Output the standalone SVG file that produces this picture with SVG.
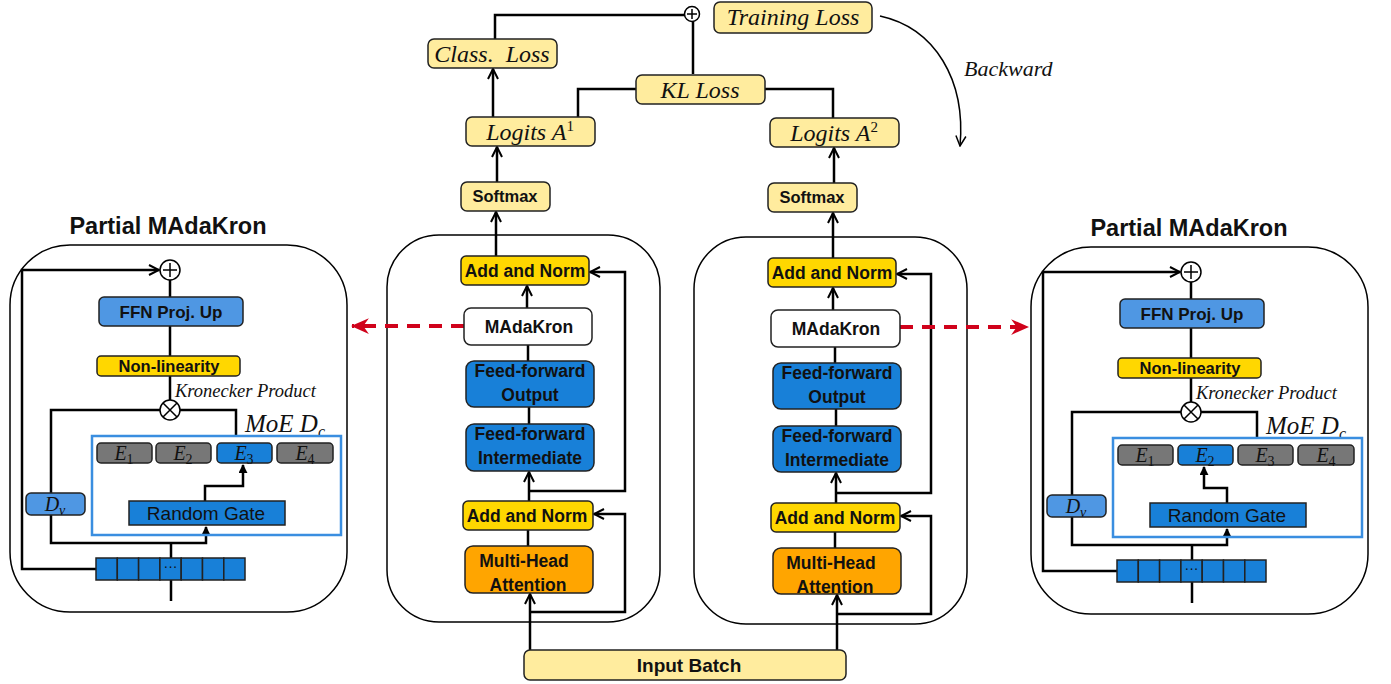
<svg xmlns="http://www.w3.org/2000/svg" width="1391" height="684" viewBox="0 0 1391 684">
<style>
.bx{stroke:#222;stroke-width:1.5}
.ly{fill:#FFEC9E}
.gd{fill:#FFD700}
.db{fill:#1880D8}
.lb{fill:#4F97E3}
.or{fill:#FFA500}
.gr{fill:#777}
.wh{fill:#fff}
.ln{fill:none;stroke:#000;stroke-width:2.5}
.thin{fill:none;stroke:#000;stroke-width:1.5}
.pn{fill:none;stroke:#000;stroke-width:1.5}
.sb{font-family:"Liberation Sans",Arial,sans-serif;font-weight:bold;text-anchor:middle;fill:#111}
.ss{font-family:"Liberation Sans",Arial,sans-serif;text-anchor:middle;fill:#111}
.it{font-family:"Liberation Serif","DejaVu Serif",serif;font-style:italic;fill:#111}
.itc{font-family:"Liberation Serif","DejaVu Serif",serif;font-style:italic;text-anchor:middle;fill:#111}
.red{fill:none;stroke:#D0021B;stroke-width:4;stroke-dasharray:13 9}
.moe{fill:none;stroke:#3A8EE0;stroke-width:2.5}
.f17{font-size:17.5px}
</style>
<defs>
<marker id="a" viewBox="0 0 12 12" refX="11" refY="6" markerWidth="12" markerHeight="12" markerUnits="userSpaceOnUse" orient="auto"><path d="M1,1 L11,6 L1,11" fill="none" stroke="#000" stroke-width="2"/></marker>
<marker id="t" viewBox="0 0 10 10" refX="9" refY="5" markerWidth="9" markerHeight="9" markerUnits="userSpaceOnUse" orient="auto"><path d="M0,0 L10,5 L0,10 z" fill="#000"/></marker>
<marker id="r" viewBox="0 0 16 16" refX="15" refY="8" markerWidth="18" markerHeight="18" markerUnits="userSpaceOnUse" orient="auto"><path d="M0,1 L16,8 L0,15 L5,8 z" fill="#D0021B"/></marker>
<marker id="b" viewBox="0 0 12 12" refX="11" refY="6" markerWidth="12" markerHeight="12" markerUnits="userSpaceOnUse" orient="auto"><path d="M1,1 L11,6 L1,11" fill="none" stroke="#000" stroke-width="1.5"/></marker>
</defs>

<!-- center panels -->
<g id="blockLeft"><rect x="387" y="235" width="273" height="387" rx="52" class="pn"/></g>
<g id="blockRight"><rect x="694" y="237" width="273" height="387" rx="52" class="pn"/></g>

<g id="connectors">
  <path class="ln" d="M495,39 V15 H685"/>
  <path class="ln" d="M693,21 V74"/>
  <path class="ln" d="M636,89 H578 V117"/>
  <path class="ln" d="M765,89 H833 V118"/>
  <path class="ln" d="M493,117 V69" marker-end="url(#a)"/>
  <path class="ln" d="M497,182 V147" marker-end="url(#a)"/>
  <path class="ln" d="M834,183 V148" marker-end="url(#a)"/>
  <path class="ln" d="M496,256 V212" marker-end="url(#a)"/>
  <path class="ln" d="M833,258 V213" marker-end="url(#a)"/>
  <path class="thin" d="M880,16 C935,28 966,80 960,146" marker-end="url(#b)"/>
  <path class="ln" d="M530,650 V594" marker-end="url(#a)"/>
  <path class="ln" d="M530,612 H625 V514 H594" marker-end="url(#a)"/>
  <path class="ln" d="M528,546 V530"/>
  <path class="ln" d="M529,501 V472" marker-end="url(#a)"/>
  <path class="ln" d="M529,491 H625 V272 H590" marker-end="url(#a)"/>
  <path class="ln" d="M529,424 V407"/>
  <path class="ln" d="M528,361 V345"/>
  <path class="ln" d="M527,308 V286" marker-end="url(#a)"/>
  <path class="ln" d="M837,650 V595" marker-end="url(#a)"/>
  <path class="ln" d="M837,614 H931 V516 H901" marker-end="url(#a)"/>
  <path class="ln" d="M835,548 V532"/>
  <path class="ln" d="M836,503 V473" marker-end="url(#a)"/>
  <path class="ln" d="M836,493 H931 V274 H897" marker-end="url(#a)"/>
  <path class="ln" d="M836,426 V409"/>
  <path class="ln" d="M835,363 V347"/>
  <path class="ln" d="M833,310 V288" marker-end="url(#a)"/>
  <path class="red" d="M464,326 H352" marker-end="url(#r)"/>
  <path class="red" d="M900,327 H1028" marker-end="url(#r)"/>
</g>

<g id="sumTop"><circle cx="692" cy="14" r="7.5" fill="#fff" stroke="#000" stroke-width="1.5"/><path d="M692,9 V19 M687,14 H697" stroke="#000" stroke-width="1.5"/></g>
<g id="trainingLoss"><rect x="714" y="2" width="158" height="31" rx="6" class="bx ly"/><text x="793" y="25" class="itc" style="font-size:24px">Training Loss</text></g>
<g id="backwardLabel"><text x="964" y="76" class="it" style="font-size:22px">Backward</text></g>
<g id="classLoss"><rect x="428" y="39" width="129" height="29" rx="6" class="bx ly"/><text x="492" y="62" class="itc" style="font-size:24px" xml:space="preserve">Class.  Loss</text></g>
<g id="klLoss"><rect x="636" y="75" width="129" height="29" rx="6" class="bx ly"/><text x="700" y="98" class="itc" style="font-size:24px">KL Loss</text></g>
<g id="logitsA1"><rect x="466" y="117" width="129" height="29" rx="6" class="bx ly"/><text x="530" y="140" class="itc" style="font-size:24px">Logits A<tspan style="font-size:15px;font-style:normal" dy="-9">1</tspan></text></g>
<g id="logitsA2"><rect x="770" y="118" width="129" height="29" rx="6" class="bx ly"/><text x="834" y="141" class="itc" style="font-size:24px">Logits A<tspan style="font-size:15px;font-style:normal" dy="-9">2</tspan></text></g>
<g id="softmax1"><rect x="461" y="182" width="89" height="29" rx="6" class="bx ly"/><text x="505" y="202" class="sb" style="font-size:16.5px">Softmax</text></g>
<g id="softmax2"><rect x="768" y="183" width="89" height="29" rx="6" class="bx ly"/><text x="812" y="203" class="sb" style="font-size:16.5px">Softmax</text></g>

<g id="addNorm1a"><rect x="461" y="256" width="128" height="29" rx="5" class="bx gd"/><text x="525" y="277" class="sb f17">Add and Norm</text></g>
<g id="madakron1"><rect x="464" y="308" width="128" height="37" rx="7" class="bx wh"/><text x="529" y="333" class="sb f17">MAdaKron</text></g>
<g id="ffOut1"><rect x="466" y="361" width="128" height="46" rx="8" class="bx db"/><text x="530" y="377" class="sb f17">Feed-forward</text><text x="530" y="401" class="sb f17">Output</text></g>
<g id="ffInt1"><rect x="466" y="424" width="128" height="47" rx="8" class="bx db"/><text x="530" y="440" class="sb f17">Feed-forward</text><text x="530" y="464" class="sb f17">Intermediate</text></g>
<g id="addNorm1b"><rect x="463" y="501" width="130" height="29" rx="5" class="bx gd"/><text x="527" y="522" class="sb f17">Add and Norm</text></g>
<g id="mha1"><rect x="465" y="546" width="128" height="47" rx="8" class="bx or"/><text x="524" y="567" class="sb f17">Multi-Head</text><text x="528" y="591" class="sb f17">Attention</text></g>

<g id="addNorm2a"><rect x="768" y="258" width="128" height="29" rx="5" class="bx gd"/><text x="832" y="279" class="sb f17">Add and Norm</text></g>
<g id="madakron2"><rect x="771" y="310" width="129" height="37" rx="7" class="bx wh"/><text x="836" y="335" class="sb f17">MAdaKron</text></g>
<g id="ffOut2"><rect x="773" y="363" width="128" height="46" rx="8" class="bx db"/><text x="837" y="379" class="sb f17">Feed-forward</text><text x="837" y="403" class="sb f17">Output</text></g>
<g id="ffInt2"><rect x="773" y="426" width="128" height="46" rx="8" class="bx db"/><text x="837" y="442" class="sb f17">Feed-forward</text><text x="837" y="466" class="sb f17">Intermediate</text></g>
<g id="addNorm2b"><rect x="771" y="503" width="129" height="29" rx="5" class="bx gd"/><text x="835" y="524" class="sb f17">Add and Norm</text></g>
<g id="mha2"><rect x="773" y="548" width="128" height="46" rx="8" class="bx or"/><text x="831" y="569" class="sb f17">Multi-Head</text><text x="835" y="593" class="sb f17">Attention</text></g>

<g id="inputBatch"><rect x="524" y="650" width="322" height="30" rx="6" class="bx ly"/><text x="689" y="672" class="sb" style="font-size:19px">Input Batch</text></g>

<g id="partialLeft">
  <text x="168" y="234" class="sb" style="font-size:23.5px">Partial MAdaKron</text>
  <rect x="10" y="245" width="337" height="367" rx="60" class="pn"/>
  <path class="ln" d="M96,569 H22 V270 H159" marker-end="url(#a)"/>
  <path class="ln" d="M170,280 V297 M170,326 V356 M170,376 V400"/>
  <path class="ln" d="M160,410 H51 V493"/>
  <path class="ln" d="M180,410 H236 V436"/>
  <path class="ln" d="M205,501 V486 H243 V465" marker-end="url(#t)"/>
  <path class="ln" d="M51,515 V543 H206 V527" marker-end="url(#t)"/>
  <path class="ln" d="M171,558 V543 M171,580 V601"/>
  <circle cx="170" cy="270" r="10" fill="#fff" stroke="#000" stroke-width="1.5"/>
  <path d="M170,263 V277 M163,270 H177" stroke="#000" stroke-width="1.5"/>
  <rect x="99" y="297" width="144" height="29" rx="5" class="bx lb"/>
  <text x="171" y="318" class="sb" style="font-size:17px">FFN Proj. Up</text>
  <rect x="97" y="356" width="143" height="20" rx="4" class="bx gd"/>
  <text x="169" y="372" class="sb" style="font-size:16.5px">Non-linearity</text>
  <text x="175" y="397" class="it" style="font-size:18.5px">Kronecker Product</text>
  <circle cx="170" cy="410" r="10" fill="#fff" stroke="#000" stroke-width="1.5"/>
  <path d="M163,403 L177,417 M177,403 L163,417" stroke="#000" stroke-width="1.5"/>
  <text x="245" y="432" class="it" style="font-size:25px">MoE D<tspan style="font-size:16px" dy="5">c</tspan></text>
  <rect x="92" y="436" width="249" height="99" class="moe"/>
  <rect x="97" y="443" width="55" height="20" rx="4" class="bx gr"/>
  <rect x="156" y="443" width="55" height="20" rx="4" class="bx gr"/>
  <rect x="217" y="443" width="55" height="20" rx="4" class="bx db"/>
  <rect x="277" y="443" width="56" height="20" rx="4" class="bx gr"/>
  <text x="124" y="460" class="itc" style="font-size:20px">E<tspan style="font-size:14px;font-style:normal" dy="4">1</tspan></text>
  <text x="183" y="460" class="itc" style="font-size:20px">E<tspan style="font-size:14px;font-style:normal" dy="4">2</tspan></text>
  <text x="244" y="460" class="itc" style="font-size:20px">E<tspan style="font-size:14px;font-style:normal" dy="4">3</tspan></text>
  <text x="305" y="460" class="itc" style="font-size:20px">E<tspan style="font-size:14px;font-style:normal" dy="4">4</tspan></text>
  <rect x="129" y="501" width="156" height="24" class="bx db"/>
  <text x="206" y="520" class="ss" style="font-size:19px">Random Gate</text>
  <rect x="26" y="493" width="59" height="22" rx="5" class="bx lb"/>
  <text x="55" y="511" class="itc" style="font-size:20px">D<tspan style="font-size:14px" dy="4">v</tspan></text>
  <g class="bx db">
    <rect x="96" y="558" width="21.3" height="22"/><rect x="117.3" y="558" width="21.3" height="22"/><rect x="138.6" y="558" width="21.3" height="22"/><rect x="159.9" y="558" width="21.3" height="22"/><rect x="181.2" y="558" width="21.3" height="22"/><rect x="202.5" y="558" width="21.3" height="22"/><rect x="223.8" y="558" width="21.2" height="22"/>
  </g>
  <text x="170.5" y="571" class="ss" style="font-size:14px">···</text>
</g>

<g id="partialRight" transform="translate(1021,2)">
  <text x="168" y="234" class="sb" style="font-size:23.5px">Partial MAdaKron</text>
  <rect x="10" y="245" width="337" height="367" rx="60" class="pn"/>
  <path class="ln" d="M96,569 H22 V270 H159" marker-end="url(#a)"/>
  <path class="ln" d="M170,280 V297 M170,326 V356 M170,376 V400"/>
  <path class="ln" d="M160,410 H51 V493"/>
  <path class="ln" d="M180,410 H236 V436"/>
  <path class="ln" d="M206,501 V486 H183 V465" marker-end="url(#t)"/>
  <path class="ln" d="M51,515 V543 H206 V527" marker-end="url(#t)"/>
  <path class="ln" d="M171,558 V543 M171,580 V601"/>
  <circle cx="170" cy="270" r="10" fill="#fff" stroke="#000" stroke-width="1.5"/>
  <path d="M170,263 V277 M163,270 H177" stroke="#000" stroke-width="1.5"/>
  <rect x="99" y="297" width="144" height="29" rx="5" class="bx lb"/>
  <text x="171" y="318" class="sb" style="font-size:17px">FFN Proj. Up</text>
  <rect x="97" y="356" width="143" height="20" rx="4" class="bx gd"/>
  <text x="169" y="372" class="sb" style="font-size:16.5px">Non-linearity</text>
  <text x="175" y="397" class="it" style="font-size:18.5px">Kronecker Product</text>
  <circle cx="170" cy="410" r="10" fill="#fff" stroke="#000" stroke-width="1.5"/>
  <path d="M163,403 L177,417 M177,403 L163,417" stroke="#000" stroke-width="1.5"/>
  <text x="245" y="432" class="it" style="font-size:25px">MoE D<tspan style="font-size:16px" dy="5">c</tspan></text>
  <rect x="92" y="436" width="249" height="99" class="moe"/>
  <rect x="97" y="443" width="55" height="20" rx="4" class="bx gr"/>
  <rect x="157" y="443" width="55" height="20" rx="4" class="bx db"/>
  <rect x="217" y="443" width="55" height="20" rx="4" class="bx gr"/>
  <rect x="277" y="443" width="56" height="20" rx="4" class="bx gr"/>
  <text x="124" y="460" class="itc" style="font-size:20px">E<tspan style="font-size:14px;font-style:normal" dy="4">1</tspan></text>
  <text x="184" y="460" class="itc" style="font-size:20px">E<tspan style="font-size:14px;font-style:normal" dy="4">2</tspan></text>
  <text x="244" y="460" class="itc" style="font-size:20px">E<tspan style="font-size:14px;font-style:normal" dy="4">3</tspan></text>
  <text x="305" y="460" class="itc" style="font-size:20px">E<tspan style="font-size:14px;font-style:normal" dy="4">4</tspan></text>
  <rect x="129" y="501" width="156" height="24" class="bx db"/>
  <text x="206" y="520" class="ss" style="font-size:19px">Random Gate</text>
  <rect x="26" y="493" width="59" height="22" rx="5" class="bx lb"/>
  <text x="55" y="511" class="itc" style="font-size:20px">D<tspan style="font-size:14px" dy="4">v</tspan></text>
  <g class="bx db">
    <rect x="96" y="558" width="21.3" height="22"/><rect x="117.3" y="558" width="21.3" height="22"/><rect x="138.6" y="558" width="21.3" height="22"/><rect x="159.9" y="558" width="21.3" height="22"/><rect x="181.2" y="558" width="21.3" height="22"/><rect x="202.5" y="558" width="21.3" height="22"/><rect x="223.8" y="558" width="21.2" height="22"/>
  </g>
  <text x="170.5" y="571" class="ss" style="font-size:14px">···</text>
</g>
</svg>
